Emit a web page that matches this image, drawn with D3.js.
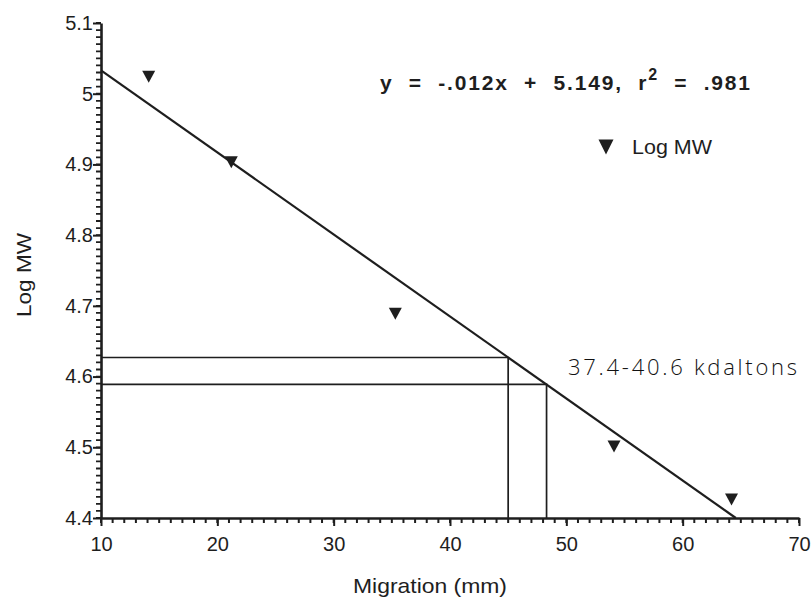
<!DOCTYPE html>
<html>
<head>
<meta charset="utf-8">
<script src="https://cdn.jsdelivr.net/npm/d3@7/dist/d3.min.js"></script>
<style>
  html, body { margin: 0; padding: 0; background: #ffffff; }
  svg { display: block; }
  text { fill: #1e1e1e; }
</style>
</head>
<body>
<svg id="chart" width="812" height="600"></svg>
<script>
// Standard proteins: migration distance (mm) and log molecular weight
const migration = [14.1, 21.2, 35.3, 54.1, 64.2];
const logMW = [5.024, 4.903, 4.689, 4.501, 4.426];

// Linear fit through the standards
const fitSlope = -0.0116;
const fitIntercept = 5.149;
const equationParts = ["y  =  -.012x  +  5.149,  r", "2", "  =  .981"];

// Unknown band: read-off positions on the fit line
const bandMigration = [45.0, 48.3];
const bandLogMW = [4.627, 4.589];
const bandLabel = "37.4-40.6 kdaltons";

// Axis ticks
const xTicks = [10, 20, 30, 40, 50, 60, 70];
const yTicks = [4.4, 4.5, 4.6, 4.7, 4.8, 4.9, 5.0, 5.1];
const yTickLabels = ["4.4", "4.5", "4.6", "4.7", "4.8", "4.9", "5", "5.1"];

const svg = d3.select("#chart");
const ink = "#1e1e1e";
const font = "'Liberation Sans', Arial, sans-serif";

const x = d3.scaleLinear().domain([10, 70]).range([101, 799]);
const y = d3.scaleLinear().domain([4.4, 5.1]).range([518, 23]);

// minor ticks: every 1 mm and every 0.01 log units
const xMinor = d3.range(10, 71);
const yMinor = d3.range(440, 511).map(v => v / 100);
svg.append("path")
  .attr("fill", "none").attr("stroke", ink).attr("stroke-width", 2)
  .attr("d", xMinor.map(d => `M${x(d)},${y(4.4)}v5`).join(""));
svg.append("path")
  .attr("fill", "none").attr("stroke", ink).attr("stroke-width", 1.8)
  .attr("d", yMinor.map(d => `M${x(10)},${y(d)}h-5`).join(""));

// major ticks + labels
const xAxis = svg.append("g")
  .attr("transform", `translate(0,${y(4.4)})`)
  .call(d3.axisBottom(x).tickValues(xTicks).tickSize(8).tickSizeOuter(0).tickPadding(11).tickFormat(d3.format("d")));
xAxis.select(".domain").attr("stroke", ink).attr("stroke-width", 2.6);
xAxis.selectAll(".tick line").attr("stroke", ink).attr("stroke-width", 2);
xAxis.selectAll(".tick text").attr("font-family", font).attr("font-size", 20).attr("fill", ink);

const yAxis = svg.append("g")
  .attr("transform", `translate(${x(10)},0)`)
  .call(d3.axisLeft(y).tickValues(yTicks).tickSize(8).tickSizeOuter(0).tickPadding(0)
    .tickFormat((d, i) => yTickLabels[i]));
yAxis.select(".domain").attr("stroke", ink).attr("stroke-width", 2.6);
yAxis.selectAll(".tick line").attr("stroke", ink).attr("stroke-width", 2);
yAxis.selectAll(".tick text").attr("font-family", font).attr("font-size", 20).attr("fill", ink);

// axis titles
svg.append("text")
  .attr("x", 430).attr("y", 593)
  .attr("text-anchor", "middle")
  .attr("font-family", font).attr("font-size", 21)
  .attr("textLength", 154).attr("lengthAdjust", "spacingAndGlyphs")
  .text("Migration (mm)");
svg.append("text")
  .attr("transform", "translate(31,275) rotate(-90)")
  .attr("text-anchor", "middle")
  .attr("font-family", font).attr("font-size", 21)
  .attr("textLength", 84).attr("lengthAdjust", "spacingAndGlyphs")
  .text("Log MW");

// fit line from the left axis down to the bottom axis
const fit = m => fitIntercept + fitSlope * m;
const xEnd = (4.4 - fitIntercept) / fitSlope;
svg.append("path")
  .datum([10, xEnd])
  .attr("fill", "none").attr("stroke", ink).attr("stroke-width", 2.2)
  .attr("d", d3.line().x(d => x(d)).y(d => y(fit(d))));

// read-off lines for the unknown band
bandMigration.forEach((m, i) => {
  svg.append("path")
    .attr("fill", "none").attr("stroke", ink).attr("stroke-width", 1.7)
    .attr("d", d3.line()([[x(10), y(bandLogMW[i])], [x(m), y(bandLogMW[i])], [x(m), y(4.4)]]));
});

// down-pointing triangles
function tri(cx, cy, w, h) {
  const p = d3.path();
  p.moveTo(cx - w / 2, cy - h / 2);
  p.lineTo(cx + w / 2, cy - h / 2);
  p.lineTo(cx, cy + h / 2);
  p.closePath();
  return p.toString();
}
svg.append("g").selectAll("path")
  .data(migration.map((m, i) => [m, logMW[i]]))
  .join("path")
  .attr("fill", ink)
  .attr("d", d => tri(x(d[0]), y(d[1]), 13, 12));

// equation
const eq = svg.append("text")
  .attr("x", 380).attr("y", 90)
  .attr("font-family", font).attr("font-size", 21).attr("font-weight", "bold")
  .attr("xml:space", "preserve")
  .style("white-space", "pre")
  .attr("textLength", 370).attr("lengthAdjust", "spacing");
eq.append("tspan").text(equationParts[0]);
eq.append("tspan").attr("font-size", 16).attr("dy", -10).text(equationParts[1]);
eq.append("tspan").attr("dy", 10).text(equationParts[2]);

// legend
svg.append("path").attr("fill", ink).attr("d", tri(606, 147, 15, 15));
svg.append("text")
  .attr("x", 632).attr("y", 154)
  .attr("font-family", font).attr("font-size", 21)
  .attr("textLength", 80).attr("lengthAdjust", "spacingAndGlyphs")
  .text("Log MW");

// band annotation
svg.append("text")
  .attr("x", 568).attr("y", 375)
  .attr("font-family", "'Open Sans', 'DejaVu Sans', sans-serif")
  .attr("font-size", 22).attr("font-weight", 300)
  .style("fill", "#111")
  .attr("textLength", 229).attr("lengthAdjust", "spacing")
  .text(bandLabel);
</script>
</body>
</html>
